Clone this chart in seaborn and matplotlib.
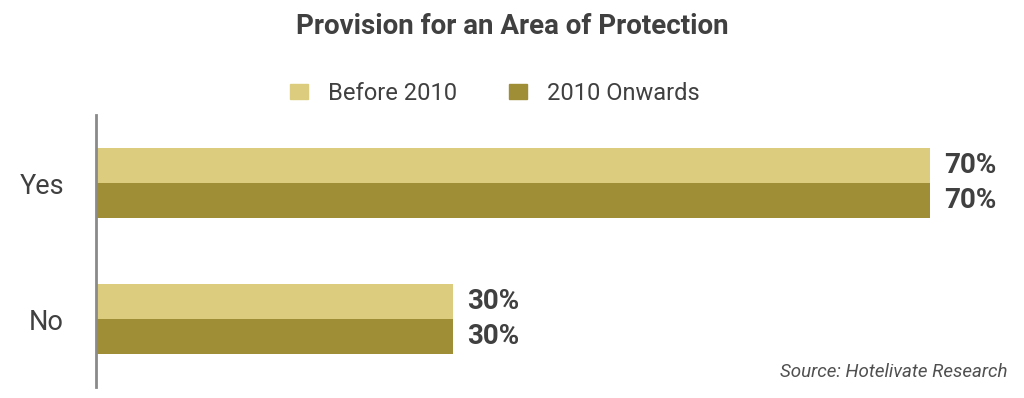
import pandas as pd
import matplotlib.pyplot as plt
import seaborn as sns

# data
categories = ['Yes', 'No']
series = ['Before 2010', '2010 Onwards']
before_2010 = [70, 30]
onwards_2010 = [70, 30]
colors = ['#DCCD7E', '#A08E37']

df = pd.DataFrame({
    'answer': categories * 2,
    'period': [series[0]] * 2 + [series[1]] * 2,
    'share': before_2010 + onwards_2010,
})

sns.set_theme(style='white')
plt.rcParams['font.family'] = ['Roboto', 'DejaVu Sans']

fig = plt.figure(figsize=(10.24, 3.98), dpi=100)
ax = fig.add_axes([96 / 1024, 1 - 387 / 398, (1010 - 96) / 1024, (387 - 115) / 398])

sns.barplot(data=df, y='answer', x='share', hue='period', orient='h',
            palette=colors, width=0.515, dodge=True, saturation=1,
            linewidth=0, legend=False, ax=ax)

ax.set_xlim(0, 76.7)
ax.set_ylim(1.5, -0.5)
ax.set_xlabel('')
ax.set_ylabel('')
ax.set_xticks([])
for s in ['top', 'right', 'bottom']:
    ax.spines[s].set_visible(False)
ax.spines['left'].set_color('#8a8a8a')
ax.spines['left'].set_linewidth(2)
ax.tick_params(axis='y', length=0, pad=23, labelsize=19.5, labelcolor='#404040')

# value labels
for cont in ax.containers:
    ax.bar_label(cont, labels=[f'{v:.0f}%' for v in cont.datavalues],
                 padding=10, fontsize=20, fontweight='bold', color='#404040')

fig.text(0.5, 1 - 27 / 398, 'Provision for an Area of Protection',
         ha='center', va='center', fontsize=20, fontweight='bold', color='#404040')

# legend
handles = [plt.Rectangle((0, 0), 1, 1, color=c) for c in colors]
fig.legend(handles, series, loc='center', bbox_to_anchor=(0.483, 1 - 93 / 398),
           ncol=2, frameon=False, fontsize=17, handlelength=0.75, handleheight=0.6,
           columnspacing=2.2, handletextpad=0.85, labelcolor='#404040')

fig.text(1007 / 1024, 1 - 372 / 398, 'Source: Hotelivate Research',
         ha='right', va='center', fontsize=13.5, style='italic',
         color='#505050')

fig.savefig('out.png', dpi=100, facecolor='white')
